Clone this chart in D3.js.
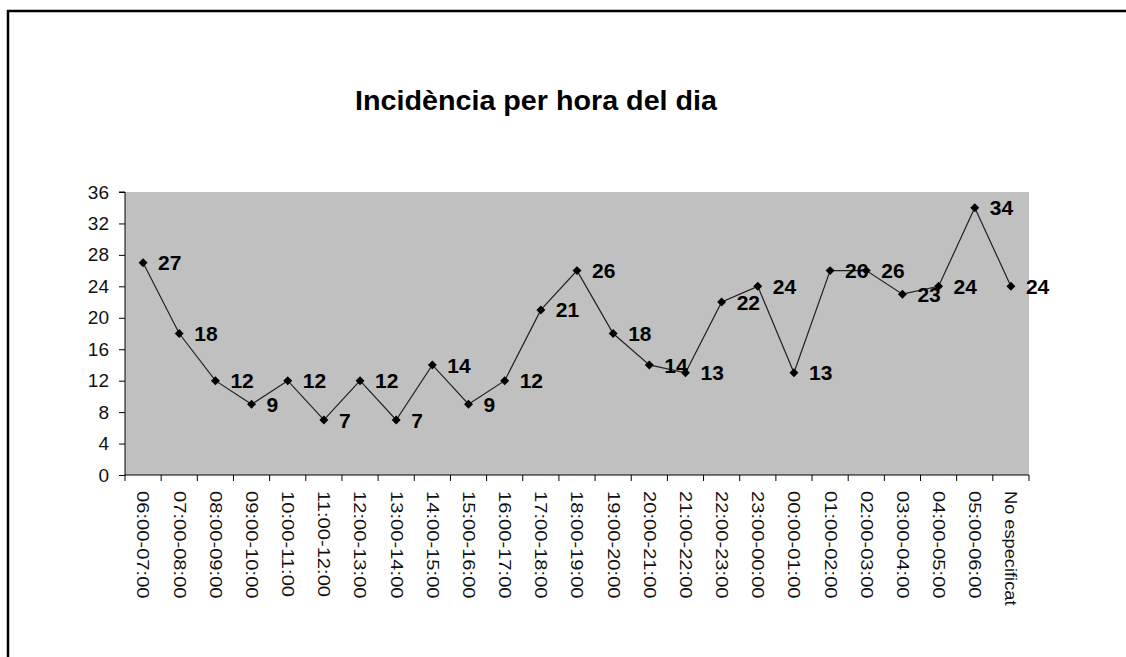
<!DOCTYPE html>
<html>
<head>
<meta charset="utf-8">
<script src="https://cdn.jsdelivr.net/npm/d3@7"></script>
<style>
  html, body { margin: 0; padding: 0; background: #fff; }
  svg { display: block; }
  text { font-family: "Liberation Sans", Arial, sans-serif; }
</style>
</head>
<body>
<svg id="chart" width="1126" height="657"></svg>
<script>
// Hour-of-day slots and their incident counts
const categories = [
  "06:00-07:00", "07:00-08:00", "08:00-09:00", "09:00-10:00", "10:00-11:00",
  "11:00-12:00", "12:00-13:00", "13:00-14:00", "14:00-15:00", "15:00-16:00",
  "16:00-17:00", "17:00-18:00", "18:00-19:00", "19:00-20:00", "20:00-21:00",
  "21:00-22:00", "22:00-23:00", "23:00-00:00", "00:00-01:00", "01:00-02:00",
  "02:00-03:00", "03:00-04:00", "04:00-05:00", "05:00-06:00", "No especificat"
];
const values = [27, 18, 12, 9, 12, 7, 12, 7, 14, 9, 12, 21, 26, 18, 14, 13, 22, 24, 13, 26, 26, 23, 24, 34, 24];
const yTicks = [0, 4, 8, 12, 16, 20, 24, 28, 32, 36];
const title = "Incidència per hora del dia";

const svg = d3.select("#chart");

// Outer frame (top and left edges visible)
svg.append("line").attr("x1", 7).attr("x2", 1126).attr("y1", 11).attr("y2", 11)
  .attr("stroke", "#000").attr("stroke-width", 2.5);
svg.append("line").attr("x1", 8).attr("x2", 8).attr("y1", 10).attr("y2", 657)
  .attr("stroke", "#000").attr("stroke-width", 2.5);

const plot = { left: 125, right: 1029, top: 192, bottom: 475 };

const x = d3.scaleBand().domain(categories).range([plot.left, plot.right]).padding(0);
const y = d3.scaleLinear().domain([0, 36]).range([plot.bottom, plot.top]);
const cx = c => x(c) + x.bandwidth() / 2;

// Plot background
svg.append("rect")
  .attr("x", plot.left).attr("y", plot.top)
  .attr("width", plot.right - plot.left).attr("height", plot.bottom - plot.top)
  .attr("fill", "#C0C0C0");

// Title
svg.append("text")
  .attr("x", 536).attr("y", 110)
  .attr("text-anchor", "middle")
  .attr("font-size", 28).attr("font-weight", "bold")
  .attr("textLength", 362).attr("lengthAdjust", "spacingAndGlyphs")
  .attr("fill", "#000")
  .text(title);

// Y axis
const yAxis = d3.axisLeft(y).tickValues(yTicks).tickSize(6).tickPadding(10);
const gy = svg.append("g").attr("transform", `translate(${plot.left},0)`).call(yAxis);
gy.select(".domain").attr("stroke", "#000").attr("d", `M-6,${plot.top}H0V${plot.bottom}`);
gy.selectAll(".tick line").attr("stroke", "#000");
gy.selectAll(".tick text").attr("font-size", 19).attr("fill", "#111")
  .attr("font-family", "'Liberation Sans', Arial, sans-serif");

// X axis: ticks at band boundaries
const gx = svg.append("g").attr("transform", `translate(0,${plot.bottom})`);
gx.append("line").attr("x1", plot.left).attr("x2", plot.right)
  .attr("y1", 0).attr("y2", 0).attr("stroke", "#000");
const boundaries = categories.map(c => x(c)).concat([plot.right]);
gx.selectAll("line.tk").data(boundaries).enter().append("line")
  .attr("class", "tk")
  .attr("x1", d => d).attr("x2", d => d)
  .attr("y1", 0).attr("y2", 6).attr("stroke", "#000");
// Vertical category labels; numeric time ranges are drawn a little wider
const stretch = d => /^\d/.test(d) ? 1.26 : 1.14;
gx.selectAll("text.cat").data(categories).enter().append("text")
  .attr("class", "cat")
  .attr("transform", d => `translate(${cx(d)},16) rotate(90) scale(${stretch(d)},1)`)
  .attr("dy", "0.35em")
  .attr("text-anchor", "start")
  .attr("font-size", 16).attr("fill", "#111")
  .text(d => d);

// Line
const line = d3.line()
  .x((d, i) => cx(categories[i]))
  .y(d => y(d));
svg.append("path").datum(values)
  .attr("d", line)
  .attr("fill", "none").attr("stroke", "#222").attr("stroke-width", 1.2);

// Diamond markers
const marker = d3.symbol().type(d3.symbolSquare).size(40);
svg.selectAll("path.mk").data(values).enter().append("path")
  .attr("class", "mk")
  .attr("d", marker)
  .attr("transform", (d, i) => `translate(${cx(categories[i])},${y(d)}) rotate(45)`)
  .attr("fill", "#000");

// Data labels
svg.selectAll("text.lbl").data(values).enter().append("text")
  .attr("class", "lbl")
  .attr("x", (d, i) => cx(categories[i]) + 15)
  .attr("y", d => y(d))
  .attr("dy", "0.36em")
  .attr("font-size", 21).attr("font-weight", "bold").attr("fill", "#000")
  .text(d => d);
</script>
</body>
</html>
